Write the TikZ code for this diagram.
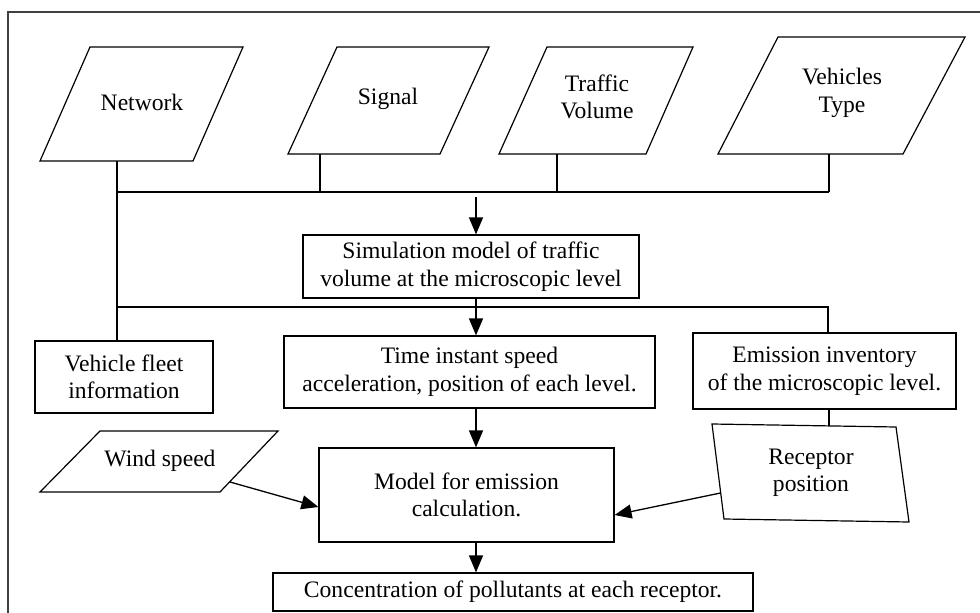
\documentclass[tikz,border=0pt]{standalone}
\usepackage{fontspec}
\setmainfont{Liberation Serif}
\usetikzlibrary{arrows.meta}
\begin{document}
\begin{tikzpicture}[x=1pt,y=-1pt,
  txt/.style={align=center, inner sep=0pt, font=\fontsize{23.6}{27.5}\selectfont},
  box/.style={txt, draw, line width=1.2pt},
  ln/.style={line width=1.2pt},
  arr/.style={line width=1.3pt, -{Triangle[length=17pt,width=14pt]}},
  shp/.style={draw, line width=1.2pt, line join=miter}]
\useasboundingbox (0,0) rectangle (980,613);
% frame
\draw[line width=1.4pt, black!75] (8,613) -- (8,12) -- (980,12);

% input parallelograms
\draw[shp] (90,47) -- (243,47) -- (193,161) -- (40,161) -- cycle;
\node[txt] (net) at (142,102) {Network};
\coordinate (netB) at (117,161);

\draw[shp] (337,47) -- (489,47) -- (440,154) -- (288,154) -- cycle;
\node[txt] (sig) at (388,99) {Signal};
\coordinate (sigB) at (320,154);

\draw[shp] (547,47) -- (693,47) -- (646,154) -- (499,154) -- cycle;
\node[txt] (trf) at (597,97) {Traffic\\Volume};
\coordinate (trfB) at (557,154);

\draw[shp] (778,37) -- (965,37) -- (903,154) -- (718,154) -- cycle;
\node[txt] (veh) at (842,93) {Vehicles\\Type};
\coordinate (vehB) at (829,154);

% boxes
\node[box, minimum width=336pt, minimum height=63pt] (sim) at (471,266.5)
  {Simulation model of traffic\\volume at the microscopic level};
\node[box, minimum width=178pt, minimum height=72pt] (fleet) at (124,377)
  {Vehicle fleet\\information};
\node[box, minimum width=371pt, minimum height=72pt] (time) at (469.5,372)
  {Time instant speed\\acceleration, position of each level.};
\node[box, minimum width=263pt, minimum height=76pt] (emis) at (824.5,371)
  {Emission inventory\\of the microscopic level.};
\node[box, minimum width=295pt, minimum height=94pt] (model) at (466.5,495)
  {Model for emission\\calculation.};
\node[box, minimum width=480pt, minimum height=38pt] (conc) at (513,592)
  {Concentration of pollutants at each receptor.};

% wind speed
\draw[shp] (100,431) -- (278,431) -- (220,492) -- (40,492) -- cycle;
\node[txt] (wind) at (160,461) {Wind speed};
\coordinate (windR) at (230,482);

% receptor
\draw[shp] (712,424) -- (896,427) -- (909,522) -- (724,519) -- cycle;
\node[txt] (rec) at (811,473) {Receptor\\position};
\coordinate (recT) at (829,426);
\coordinate (recL) at (720.5,493);

% bus lines
\coordinate (bus1W) at (117,192);
\coordinate (bus1E) at (829,192);
\coordinate (bus2W) at (117,307);
\coordinate (bus2E) at (828,307);
\coordinate (a1) at (476,197);

\draw[ln] (netB) -- (fleet.north -| netB);
\draw[ln] (bus1W) -- (bus1E);
\draw[ln] (sigB) -- (sigB |- bus1W);
\draw[ln] (trfB) -- (trfB |- bus1W);
\draw[ln] (vehB) -- (bus1E);
\draw[ln] (bus2W) -- (bus2E) -- (emis.north -| bus2E);
\draw[ln] (emis.south -| recT) -- (recT);

% arrows
\draw[arr] (a1) -- (a1 |- sim.north);
\draw[arr] (sim.south -| a1) -- (time.north -| a1);
\draw[arr] (time.south -| a1) -- (model.north -| a1);
\draw[arr] (model.south -| a1) -- (conc.north -| a1);
\draw[arr] (windR) -- ([yshift=-12pt]model.west);
\draw[arr] (recL) -- ([yshift=-20pt]model.east);
\end{tikzpicture}
\end{document}
